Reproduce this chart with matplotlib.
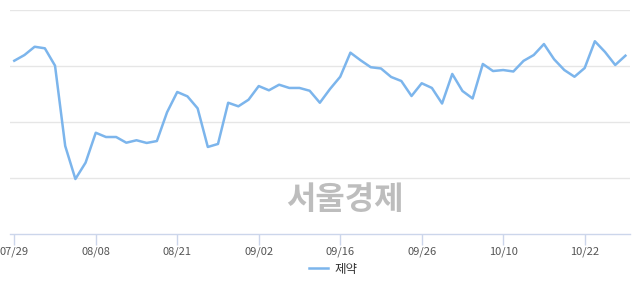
import matplotlib
matplotlib.use("Agg")
import matplotlib.pyplot as plt

plt.rcParams['font.family'] = ['Noto Sans CJK KR', 'DejaVu Sans']

series_name = "제약"
values = [8547, 8598, 8672, 8658, 8503, 7786, 7491, 7637, 7904, 7866,
          7866, 7815, 7837, 7813, 7830, 8087, 8268, 8229, 8122, 7777,
          7804, 8172, 8140, 8199, 8321, 8283, 8333, 8304, 8304, 8279,
          8172, 8295, 8404, 8619, 8551, 8489, 8478, 8402, 8366, 8232,
          8346, 8304, 8165, 8429, 8277, 8210, 8518, 8455, 8464, 8451,
          8546, 8598, 8696, 8560, 8464, 8404, 8482, 8721, 8625, 8509,
          8592]
tick_index = [0, 8, 16, 24, 32, 40, 48, 56]
tick_labels = ["07/29", "08/08", "08/21", "09/02", "09/16", "09/26", "10/10", "10/22"]
grid_values = [7500, 8000, 8500, 9000]

fig = plt.figure(figsize=(6.4, 2.94), dpi=100)
ax = fig.add_axes([10/640, (294-234)/294, 620/640, 224/294])

x = list(range(len(values)))
ax.plot(x, values, color='#7cb5ec', lw=1.8, solid_joinstyle='round', label=series_name, zorder=3)

ax.set_xlim(-0.42, 60.45)
ax.set_ylim(7000, 9000)
ax.set_yticks(grid_values)
ax.set_yticklabels([])
ax.tick_params(axis='y', length=0)
ax.grid(axis='y', color='#e6e6e6', lw=1)
ax.set_axisbelow(True)

ax.set_xticks(tick_index)
ax.set_xticklabels(tick_labels, fontsize=8, color='#555555')
ax.tick_params(axis='x', length=8, color='#ccd6eb', width=1, pad=1)

for s in ['top', 'right', 'left']:
    ax.spines[s].set_visible(False)
ax.spines['bottom'].set_color('#ccd6eb')
ax.spines['bottom'].set_linewidth(1)

fig.text(345/640, (294-200)/294, "서울경제", fontsize=23, fontweight='bold',
         color='#bdbdbd', ha='center', va='center', zorder=5)

fig.legend(loc='center', bbox_to_anchor=(333/640, (294-269)/294), frameon=False,
           fontsize=9, handlelength=1.5, handletextpad=0.5, labelcolor='#333333')

fig.savefig("out.png", dpi=100)
